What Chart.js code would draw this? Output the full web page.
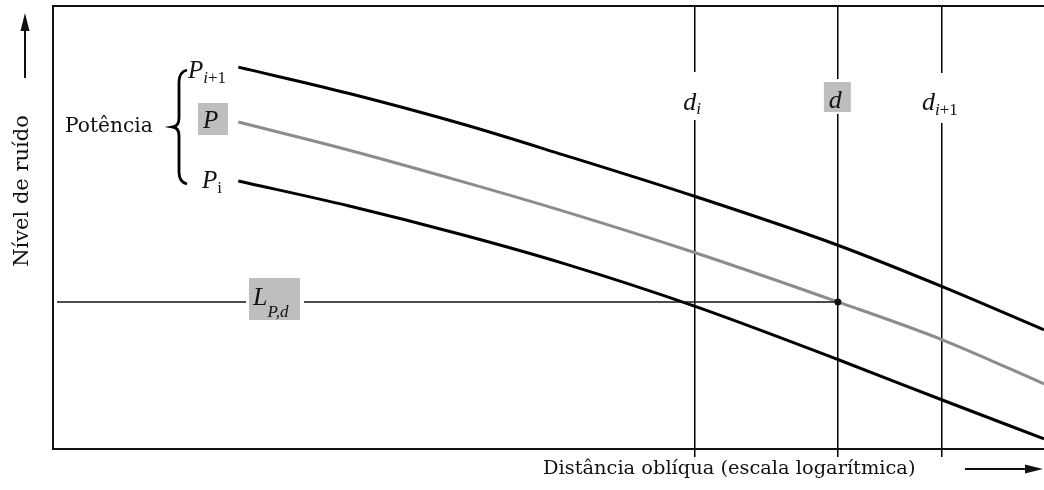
<!DOCTYPE html>
<html lang="pt">
<head>
<meta charset="UTF-8">
<title>Nível de ruído x distância oblíqua</title>
<script src="https://cdn.jsdelivr.net/npm/chart.js@4/dist/chart.umd.min.js"></script>
<style>
    html, body {margin: 0; padding: 0; background: #fff}
    #wrap {width: 1044px; height: 490px; position: relative}
</style>
</head>
<body>
<div id="wrap"><canvas id="chart"></canvas></div>
<script>
// distância oblíqua (escala log, unidades arbitrárias) e nível de ruído
const distances = [18.7, 29.8, 41.4, 51.5, 64.8, 79.2, 89.8, 100];
const powerUpper = [86.2, 80.3, 73.3, 66.4, 57.0, 46.0, 36.6, 26.9];   // P i+1
const powerMid = [73.8, 67.5, 60.3, 53.7, 44.3, 33.2, 24.6, 14.7];     // P
const powerLower = [60.5, 54.9, 48.3, 41.9, 32.2, 20.2, 11.0, 2.3];    // P i
const markers = [64.8, 79.2, 89.7];                                    // d i, d, d i+1
const levelX = [0.4, 79.2];                                            // L P,d vai do eixo até d
const levelY = [33.2, 33.2];

const serif = '"DejaVu Serif", serif';
const times = '"Liberation Serif", serif';

function pts(xs, ys) {
    return xs.map((x, i) => ({x: x, y: ys[i]}));
}

// texto matemático: letra em itálico + índice
function mathText(ctx, x, y, main, subs, size, subSize, drop) {
    ctx.textAlign = 'left';
    ctx.textBaseline = 'alphabetic';
    ctx.font = 'italic ' + size + 'px ' + times;
    ctx.fillText(main, x, y);
    let cx = x + ctx.measureText(main).width;
    (subs || []).forEach(s => {
        ctx.font = (s[1] ? 'italic ' : '') + subSize + 'px ' + times;
        ctx.fillText(s[0], cx, y + (drop || 5));
        cx += ctx.measureText(s[0]).width;
    });
}

function fitFont(ctx, text, width, family) {
    let size = 20;
    ctx.font = size + 'px ' + family;
    size = size * width / ctx.measureText(text).width;
    return size.toFixed(1) + 'px ' + family;
}

function box(ctx, x, y, w, h, color) {
    ctx.fillStyle = color;
    ctx.fillRect(x, y, w, h);
}

const notes = {
    id: 'notes',
    afterDatasetsDraw(chart) {
        const ctx = chart.ctx;
        const sx = chart.scales.x;
        const gray = '#bebebe';
        ctx.save();

        // rótulos das distâncias
        const xi = sx.getPixelForValue(markers[0]);
        const xd = sx.getPixelForValue(markers[1]);
        const xi1 = sx.getPixelForValue(markers[2]);
        box(ctx, xi - 16, 72, 32, 48, '#fff');
        box(ctx, xd - 15, 79, 30, 35, '#fff');
        box(ctx, xd - 14, 82, 27, 30, gray);
        box(ctx, xi1 - 24, 73, 46, 50, '#fff');
        ctx.fillStyle = '#111';
        mathText(ctx, xi - 12, 110, 'd', [['i', true]], 26, 17, 4);
        mathText(ctx, xd - 9, 108, 'd', [], 26, 17);
        mathText(ctx, xi1 - 20, 110, 'd', [['i', true], ['+1', false]], 26, 17, 5);

        // L P,d
        box(ctx, 246, 275, 58, 48, '#fff');
        box(ctx, 249, 278, 51, 42, gray);
        ctx.fillStyle = '#111';
        mathText(ctx, 253, 305, 'L', [['P,d', true]], 26, 17, 12);

        // potência
        box(ctx, 198, 103, 30, 32, gray);
        ctx.fillStyle = '#111';
        mathText(ctx, 188, 78, 'P', [['i', true], ['+1', false]], 25, 17, 5);
        mathText(ctx, 203, 128, 'P', [], 25, 17);
        mathText(ctx, 202, 188, 'P', [['i', false]], 25, 17, 5);

        ctx.strokeStyle = '#000';
        ctx.lineWidth = 2.8;
        ctx.beginPath();
        ctx.moveTo(187, 70);
        ctx.quadraticCurveTo(179, 72, 179, 82);
        ctx.lineTo(179, 118);
        ctx.quadraticCurveTo(179, 126, 173, 127);
        ctx.quadraticCurveTo(179, 128, 179, 136);
        ctx.lineTo(179, 172);
        ctx.quadraticCurveTo(179, 182, 187, 184);
        ctx.stroke();

        ctx.fillStyle = '#111';
        ctx.textBaseline = 'middle';
        ctx.textAlign = 'left';
        ctx.font = fitFont(ctx, 'Potência', 88, serif);
        ctx.fillText('Potência', 65, 127);

        // títulos dos eixos
        ctx.font = fitFont(ctx, 'Distância oblíqua (escala logarítmica)', 372, serif);
        ctx.fillText('Distância oblíqua (escala logarítmica)', 543, 469);

        ctx.save();
        ctx.translate(23, 191);
        ctx.rotate(-Math.PI / 2);
        ctx.textAlign = 'center';
        ctx.font = fitFont(ctx, 'Nível de ruído', 152, serif);
        ctx.fillText('Nível de ruído', 0, 0);
        ctx.restore();

        // setas
        ctx.strokeStyle = '#111';
        ctx.lineWidth = 2;
        ctx.beginPath();
        ctx.moveTo(25, 78);
        ctx.lineTo(25, 26);
        ctx.moveTo(965, 469);
        ctx.lineTo(1030, 469);
        ctx.stroke();
        ctx.beginPath();
        ctx.moveTo(25, 13);
        ctx.lineTo(20.5, 31);
        ctx.lineTo(29.5, 31);
        ctx.closePath();
        ctx.moveTo(1043, 469);
        ctx.lineTo(1025, 464.5);
        ctx.lineTo(1025, 473.5);
        ctx.closePath();
        ctx.fill();

        ctx.restore();
    }
};

new Chart('chart', {
    type: 'scatter',
    data: {
        datasets: [
            {
                data: pts(levelX, levelY),
                showLine: true,
                borderColor: '#111',
                borderWidth: 1.5,
                pointRadius: [0, 3.5],
                pointBackgroundColor: '#111',
                pointBorderWidth: 0,
                order: 0
            },
            {
                data: pts(distances, powerUpper),
                showLine: true,
                borderColor: '#000',
                borderWidth: 3,
                pointRadius: 0,
                cubicInterpolationMode: 'monotone',
                order: 1
            },
            {
                data: pts(distances, powerMid),
                showLine: true,
                borderColor: '#8c8c8c',
                borderWidth: 3,
                pointRadius: 0,
                cubicInterpolationMode: 'monotone',
                order: 1
            },
            {
                data: pts(distances, powerLower),
                showLine: true,
                borderColor: '#000',
                borderWidth: 3,
                pointRadius: 0,
                cubicInterpolationMode: 'monotone',
                order: 1
            }
        ]
    },
    options: {
        responsive: true,
        maintainAspectRatio: false,
        animation: false,
        events: [],
        layout: {
            autoPadding: false,
            padding: {left: 53, top: 6, right: 0, bottom: 33}
        },
        plugins: {
            legend: {display: false},
            tooltip: {enabled: false}
        },
        scales: {
            x: {
                type: 'linear',
                min: 0,
                max: 100,
                afterBuildTicks: s => { s.ticks = markers.map(v => ({value: v})); },
                ticks: {display: false},
                grid: {color: '#000', lineWidth: 1.5, tickLength: 8, drawTicks: true},
                border: {display: true, color: '#111', width: 2}
            },
            y: {
                min: 0,
                max: 100,
                afterBuildTicks: s => { s.ticks = [{value: 100}]; },
                ticks: {display: false},
                grid: {color: '#111', lineWidth: 2, drawTicks: false},
                border: {display: true, color: '#111', width: 2}
            }
        }
    },
    plugins: [notes]
});
</script>
</body>
</html>
